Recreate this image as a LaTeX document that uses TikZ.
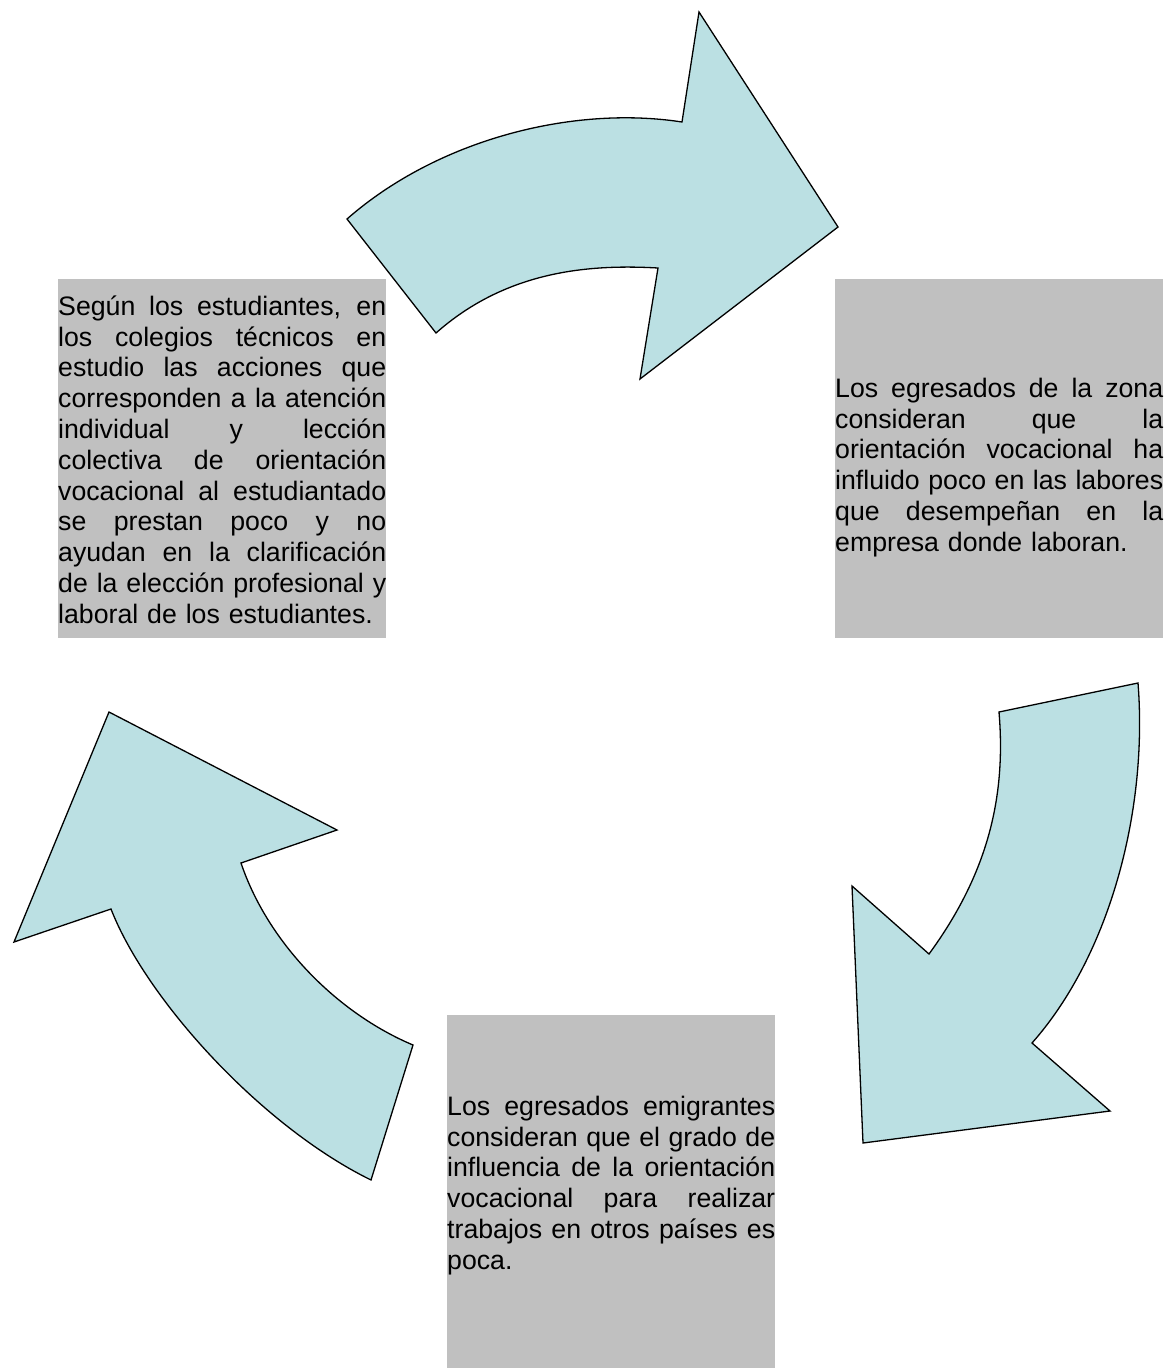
\documentclass[tikz,border=0pt]{standalone}
\usepackage{fontspec}
\setmainfont{Liberation Sans}
\definecolor{arrowfill}{RGB}{187,224,227}
\definecolor{boxgray}{RGB}{192,192,192}
\newcommand{\jline}[1]{\hbox to 328pt{\spaceskip=\fontdimen2\font plus 1fil\relax #1}\par}
\newcommand{\lastline}[1]{\hbox to 328pt{#1\hfil}\par}
\begin{document}
\begin{tikzpicture}[x=1pt,y=-1pt,
  cyclearrow/.style={fill=arrowfill,draw=black,line width=1.3pt,line join=miter},
  graybox/.style={fill=boxgray,draw=none,inner sep=0pt,anchor=north west,minimum width=328pt},
  textblk/.style={anchor=north west,inner sep=0pt,text width=328pt,
    font=\fontsize{26.7}{30.8}\selectfont}]
\useasboundingbox (0,0) rectangle (1170,1368);
% boxes
\node[graybox,minimum height=359pt] (b1) at (58,279) {};
\node[graybox,minimum height=359pt] (b2) at (835,279) {};
\node[graybox,minimum height=353pt] (b3) at (447,1015) {};
% arrows
\draw[cyclearrow] (347,219) .. controls (437,140) and (572,105) .. (682,122)
  -- (699,12) -- (838,227) -- (640,379) -- (658,268)
  .. controls (588,264) and (506,271) .. (436,333) -- cycle;
\draw[cyclearrow] (999,712) -- (1138,683) .. controls (1148,810) and (1110,955) .. (1032,1043)
  -- (1110,1111) -- (863,1143) -- (852,886) -- (929,954)
  .. controls (989,872) and (1006,795) .. (999,712) -- cycle;
\draw[cyclearrow] (371,1180) -- (413,1045) .. controls (337,1013) and (268,943) .. (241,863)
  -- (337,830) -- (109,712) -- (14,942) -- (111,909)
  .. controls (146,999) and (261,1126) .. (371,1180) -- cycle;
% texts
\node[textblk] (t1) at (58,290) {\parindent=0pt
\jline{\rule{0pt}{25pt}Según los estudiantes, en}
\jline{los colegios técnicos en}
\jline{estudio las acciones que}
\jline{corresponden a la atención}
\jline{individual y lección}
\jline{colectiva de orientación}
\jline{vocacional al estudiantado}
\jline{se prestan poco y no}
\jline{ayudan en la clarificación}
\jline{de la elección profesional y}
\lastline{laboral de los estudiantes.}};
\node[textblk] (t2) at (835,372) {\parindent=0pt
\jline{\rule{0pt}{25pt}Los egresados de la zona}
\jline{consideran que la}
\jline{orientación vocacional ha}
\jline{influido poco en las labores}
\jline{que desempeñan en la}
\lastline{empresa donde laboran.}};
\node[textblk] (t3) at (447,1090) {\parindent=0pt
\jline{\rule{0pt}{25pt}Los egresados emigrantes}
\jline{consideran que el grado de}
\jline{influencia de la orientación}
\jline{vocacional para realizar}
\jline{trabajos en otros países es}
\lastline{poca.}};
\end{tikzpicture}
\end{document}
